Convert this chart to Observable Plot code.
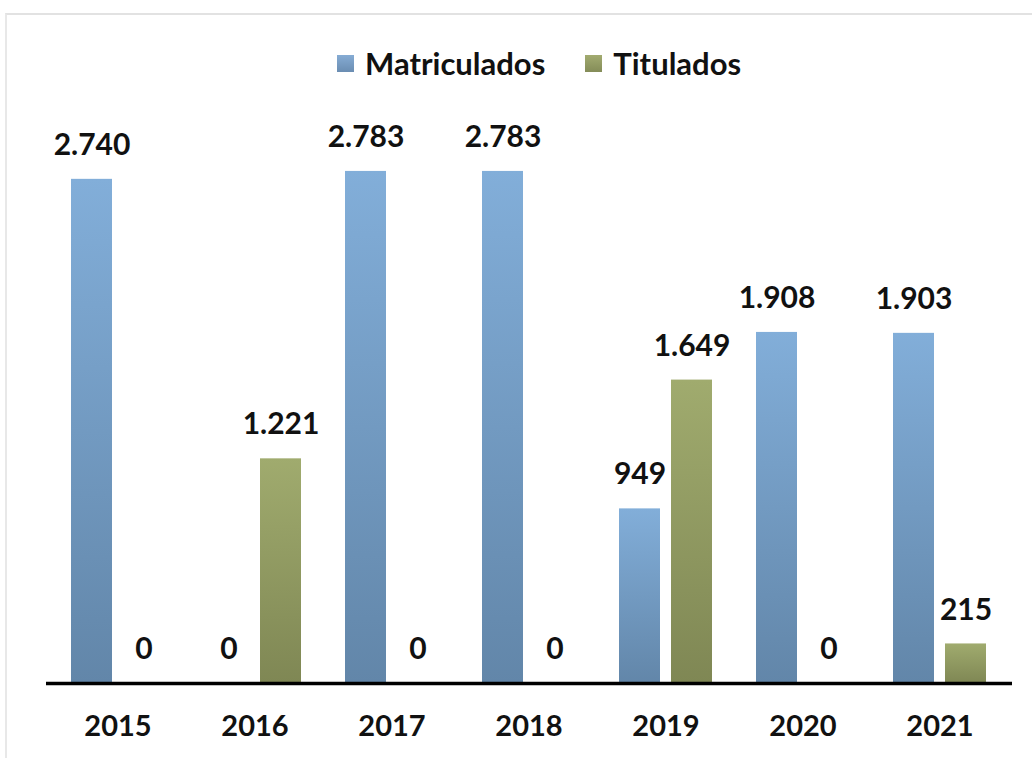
<!DOCTYPE html>
<html>
<head>
<meta charset="utf-8">
<script src="https://cdn.jsdelivr.net/npm/d3@7"></script>
<script src="https://cdn.jsdelivr.net/npm/@observablehq/plot@0.6"></script>
<style>
  html, body { margin: 0; padding: 0; background: #fff; overflow: hidden; }
  #wrap { position: relative; width: 1032px; height: 758px; font-family: Lato, "Liberation Sans", sans-serif; }
  #frame { position: absolute; left: 5px; top: 13px; width: 1100px; height: 900px;
           border-top: 2px solid #e2e2e2; border-left: 2px solid #e8e8e8; box-sizing: border-box; }
  #legend { position: absolute; left: 337px; top: 43px; height: 40px; display: flex; align-items: center;
            font-weight: 700; font-size: 31px; color: #111; }
  .item { display: flex; align-items: center; }
  .sw { width: 17px; height: 17px; margin-right: 11px; }
  #chart { position: absolute; left: 0; top: 100px; }
</style>
</head>
<body>
<div id="wrap">
  <div id="frame"></div>
  <div id="legend"></div>
  <div id="chart"></div>
</div>
<script>
const years = ["2015", "2016", "2017", "2018", "2019", "2020", "2021"];
const matriculados = [2740, 0, 2783, 2783, 949, 1908, 1903];
const titulados = [0, 1221, 0, 0, 1649, 0, 215];
const seriesNames = ["Matriculados", "Titulados"];
const seriesFills = ["url(#gradM)", "url(#gradT)"];
const swatchColors = ["linear-gradient(#86acd4, #6a8db2)", "linear-gradient(#a2ab70, #848c58)"];

const rowsM = years.map((y, i) => ({year: y, value: matriculados[i]}));
const rowsT = years.map((y, i) => ({year: y, value: titulados[i]}));

const fmt = d3.formatLocale({decimal: ",", thousands: ".", grouping: [3], currency: ["", ""]}).format(",d");

// legend
const legend = document.getElementById("legend");
seriesNames.forEach((name, i) => {
  const it = document.createElement("div");
  it.className = "item";
  it.style.marginRight = i === 0 ? "40px" : "0";
  const sw = document.createElement("div");
  sw.className = "sw";
  sw.style.background = swatchColors[i];
  const tx = document.createElement("span");
  tx.textContent = name;
  it.appendChild(sw);
  it.appendChild(tx);
  legend.appendChild(it);
});

const labelStyle = {fontSize: 30, fontWeight: 700, fill: "#111"};

const svg = Plot.plot({
  width: 1032,
  height: 658,
  marginLeft: 46,
  marginRight: 20,
  marginTop: 31,
  marginBottom: 75,
  style: {fontFamily: "Lato, 'Liberation Sans', sans-serif", background: "transparent", overflow: "visible"},
  x: {domain: years, paddingInner: 0.319, paddingOuter: 0.16, label: null, tickSize: 0, tickPadding: 32},
  y: {domain: [0, 3000], axis: null},
  marks: [
    Plot.barY(rowsM, {x: "year", y: "value", fill: seriesFills[0], insetRight: 52}),
    Plot.barY(rowsT, {x: "year", y: "value", fill: seriesFills[1], insetLeft: 52}),
    Plot.text(rowsM, {x: "year", y: "value", text: d => fmt(d.value), dx: -26, dy: -34, ...labelStyle}),
    Plot.text(rowsT, {x: "year", y: "value", text: d => fmt(d.value), dx: 26, dy: -34, ...labelStyle}),
    Plot.ruleY([0], {stroke: "#000", strokeWidth: 3.5})
  ]
});

d3.select(svg).insert("defs", ":first-child").html(`
  <linearGradient id="gradM" x1="0" y1="0" x2="0" y2="1">
    <stop offset="0" stop-color="#82aed9"/>
    <stop offset="1" stop-color="#6286a9"/>
  </linearGradient>
  <linearGradient id="gradT" x1="0" y1="0" x2="0" y2="1">
    <stop offset="0" stop-color="#a0ab6e"/>
    <stop offset="1" stop-color="#7f8754"/>
  </linearGradient>
`);
d3.select(svg).selectAll("g[aria-label='x-axis tick label'] text, g[aria-label='x-axis'] text")
  .style("font-size", "29px").style("font-weight", "700").style("fill", "#111");
d3.select(svg).selectAll("g[aria-label='x-axis tick label'], g[aria-label='x-axis']")
  .attr("font-size", 29).attr("font-weight", 700);

document.getElementById("chart").appendChild(svg);
</script>
</body>
</html>
